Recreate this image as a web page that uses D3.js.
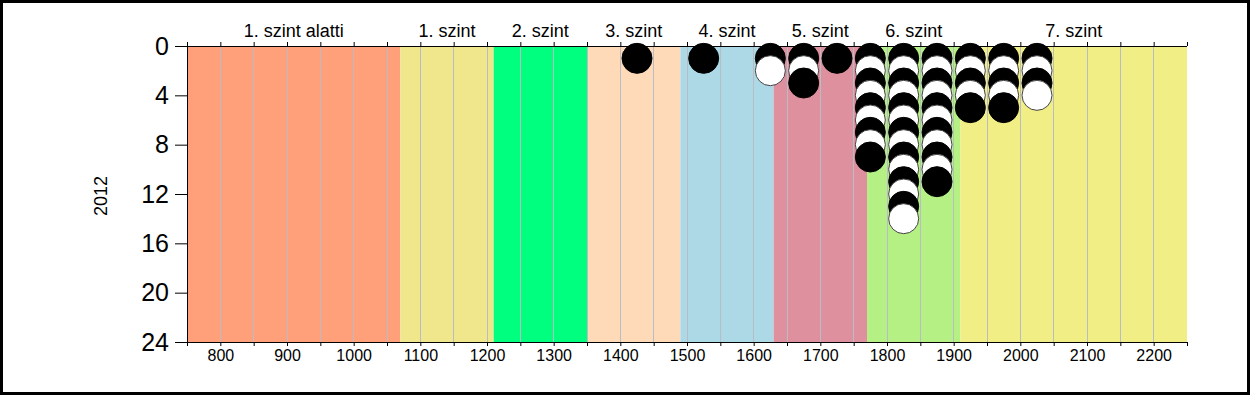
<!DOCTYPE html>
<html>
<head>
<meta charset="utf-8">
<script src="https://cdn.jsdelivr.net/npm/d3@7"></script>
<style>
  body { margin: 0; background: #fff; }
  svg { display: block; font-family: "Liberation Sans", Arial, sans-serif; }
  svg text { font-family: "Liberation Sans", Arial, sans-serif; }
</style>
</head>
<body>
<svg id="chart" width="1250" height="395"></svg>
<script>
// kategoriak (szintek) es hataraik
let bandNames = ["1. szint alatti", "1. szint", "2. szint", "3. szint", "4. szint", "5. szint", "6. szint", "7. szint"],
    bandStart = [750, 1070, 1210, 1350, 1490, 1630, 1770, 1910],
    bandEnd   = [1070, 1210, 1350, 1490, 1630, 1770, 1910, 2250],
    bandColors = ["#ffa07a", "#f0e68c", "#00ff7f", "#ffdab9", "#add8e6", "#de909f", "#b4f084", "#f0ee84"];

// pontok: oszlop x erteke es darabszam
let dotX     = [1425, 1525, 1625, 1675, 1725, 1775, 1825, 1875, 1925, 1975, 2025],
    dotCount = [1, 1, 2, 3, 1, 9, 14, 11, 5, 5, 4];

let yTicks = [0, 4, 8, 12, 16, 20, 24],
    xTicks = [800, 900, 1000, 1100, 1200, 1300, 1400, 1500, 1600, 1700, 1800, 1900, 2000, 2100, 2200],
    yTitle = "2012";

let svg = d3.select("#chart"),
    width = +svg.attr("width"),
    height = +svg.attr("height"),
    margin = {top: 46, left: 187, right: 63, bottom: 53};

let x = d3.scaleLinear().domain([750, 2250]).range([margin.left, width - margin.right]);
let y = d3.scaleLinear().domain([0, 24]).range([margin.top, height - margin.bottom]);

// keret
svg.append("rect")
   .attr("x", 1.5).attr("y", 1.5)
   .attr("width", width - 3).attr("height", height - 3)
   .attr("fill", "#fff").attr("stroke", "#000").attr("stroke-width", 3);

// savok
svg.selectAll(".band")
   .data(bandNames)
   .enter().append("rect")
   .attr("class", "band")
   .attr("x", (d, i) => x(bandStart[i]))
   .attr("width", (d, i) => x(bandEnd[i]) - x(bandStart[i]))
   .attr("y", y(0))
   .attr("height", y(24) - y(0))
   .attr("fill", (d, i) => bandColors[i]);

// racsvonalak 50-enkent
let gridVals = d3.range(800, 2250, 50);
svg.selectAll(".grid")
   .data(gridVals)
   .enter().append("line")
   .attr("x1", d => x(d)).attr("x2", d => x(d))
   .attr("y1", y(0)).attr("y2", y(24))
   .attr("stroke", "#b8bcc4").attr("stroke-width", 1)
   .attr("shape-rendering", "crispEdges");

// savcimkek
svg.selectAll(".bandlabel")
   .data(bandNames)
   .enter().append("text")
   .attr("x", (d, i) => x((bandStart[i] + bandEnd[i]) / 2))
   .attr("y", 37)
   .attr("text-anchor", "middle")
   .style("font-size", "18px")
   .text(d => d);

// also tengely
let bottomAxis = d3.axisBottom(x)
   .tickValues(d3.range(750, 2251, 50))
   .tickSize(4)
   .tickPadding(4)
   .tickFormat(d => xTicks.includes(d) ? d : "");
let gB = svg.append("g")
   .attr("transform", "translate(0," + y(24) + ")")
   .call(bottomAxis);
gB.select(".domain").attr("d", "M" + x(750) + ",0.5H" + x(2250));
gB.selectAll("text").style("font-size", "16px").attr("fill", "#000");

// felso tengely
let topAxis = d3.axisTop(x)
   .tickValues(d3.range(750, 2251, 50))
   .tickSize(4)
   .tickFormat("");
let gT = svg.append("g")
   .attr("transform", "translate(0," + y(0) + ")")
   .call(topAxis);
gT.select(".domain").attr("d", "M" + x(750) + ",0.5H" + x(2250));

// bal tengely
let leftAxis = d3.axisLeft(y).tickValues(yTicks).tickSize(12).tickPadding(6);
let gL = svg.append("g")
   .attr("transform", "translate(" + x(750) + ",0)")
   .call(leftAxis);
gL.select(".domain").attr("d", "M0.5," + y(0) + "V" + y(24));
gL.selectAll("text").style("font-size", "25px").attr("fill", "#000");

// tengelycim
svg.append("text")
   .attr("transform", "translate(107," + (y(12) + 2) + ") rotate(-90)")
   .attr("text-anchor", "middle")
   .style("font-size", "18px")
   .text(yTitle);

// pontok: minden oszlopban 1..n, paratlan fekete, paros feher
let dots = [];
dotX.forEach((v, i) => {
  for (let k = 1; k <= dotCount[i]; k++) dots.push({x: v, k: k});
});

svg.selectAll(".dot")
   .data(dots)
   .enter().append("circle")
   .attr("class", "dot")
   .attr("cx", d => x(d.x))
   .attr("cy", d => y(d.k))
   .attr("r", 15)
   .attr("fill", d => d.k % 2 ? "#000" : "#fff")
   .attr("stroke", d => d.k % 2 ? "#000" : "#444")
   .attr("stroke-width", 1);
</script>
</body>
</html>
